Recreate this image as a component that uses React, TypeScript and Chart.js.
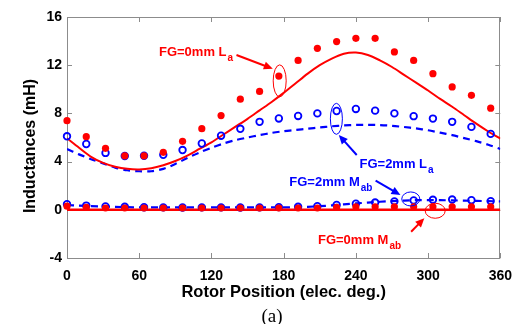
import React, { useEffect, useRef } from 'react';
import { Chart, registerables } from 'chart.js';

Chart.register(...registerables);

// ---- data ----
const measAngles = [0, 16, 32, 48, 64, 80, 96, 112, 128, 144, 160, 176, 192, 208, 224, 240, 256, 272, 288, 304, 320, 336, 352];
const la0Meas = [7.4, 6.07, 5.1, 4.48, 4.48, 4.77, 5.68, 6.73, 7.82, 9.18, 9.82, 11.1, 12.4, 13.4, 13.96, 14.23, 14.23, 13.1, 12.4, 11.3, 10.2, 9.5, 8.43];
const la2Meas = [6.1, 5.46, 4.72, 4.47, 4.48, 4.56, 4.96, 5.5, 6.15, 6.72, 7.3, 7.58, 7.79, 8.0, 8.2, 8.37, 8.23, 8.0, 7.77, 7.57, 7.3, 6.88, 6.3];
const mab0Meas = [0.3, 0.2, 0.15, 0.15, 0.15, 0.15, 0.15, 0.15, 0.15, 0.15, 0.15, 0.15, 0.15, 0.15, 0.2, 0.25, 0.25, 0.25, 0.25, 0.25, 0.25, 0.25, 0.25];
const mab2Meas = [0.47, 0.35, 0.28, 0.25, 0.21, 0.2, 0.19, 0.2, 0.2, 0.19, 0.2, 0.22, 0.25, 0.3, 0.4, 0.5, 0.6, 0.7, 0.78, 0.83, 0.85, 0.8, 0.72];

const simAngles = [0, 10, 20, 30, 40, 50, 60, 70, 80, 90, 100, 110, 120, 130, 140, 150, 160, 170, 180, 190, 200, 210, 220, 230, 240, 250, 260, 270, 280, 290, 300, 310, 320, 330, 340, 350, 360];
const la0Sim = [5.93, 5.15, 4.4, 3.9, 3.58, 3.4, 3.35, 3.45, 3.7, 4.05, 4.5, 5.05, 5.6, 6.25, 6.9, 7.55, 8.25, 8.95, 9.7, 10.5, 11.3, 12.0, 12.55, 12.95, 13.05, 12.85, 12.4, 11.85, 11.2, 10.55, 9.9, 9.2, 8.55, 7.85, 7.15, 6.5, 5.9];
const la2Sim = [5.05, 4.6, 4.2, 3.85, 3.5, 3.28, 3.2, 3.2, 3.4, 3.8, 4.3, 4.75, 5.15, 5.5, 5.78, 6.0, 6.2, 6.38, 6.52, 6.63, 6.73, 6.83, 6.93, 7.0, 7.04, 7.05, 7.03, 6.97, 6.87, 6.75, 6.6, 6.4, 6.2, 5.95, 5.7, 5.4, 5.05];
const mab0Sim = [0, 0, 0, 0, 0, 0, 0, 0, 0, 0, 0, 0, 0, 0, 0, 0, 0, 0, 0, 0, 0, 0, 0, 0, 0, 0, 0, 0, 0, 0, 0, 0, 0, 0, 0, 0, 0];
const mab2Sim = [0.4, 0.35, 0.3, 0.28, 0.25, 0.22, 0.2, 0.2, 0.2, 0.2, 0.2, 0.2, 0.2, 0.2, 0.2, 0.2, 0.2, 0.2, 0.2, 0.22, 0.25, 0.3, 0.37, 0.45, 0.53, 0.6, 0.67, 0.72, 0.76, 0.8, 0.8, 0.8, 0.78, 0.76, 0.74, 0.72, 0.7];

const xTicks = [0, 60, 120, 180, 240, 300, 360];
const yTicks = [-4, 0, 4, 8, 12, 16];

const xTitle = 'Rotor Position (elec. deg.)';
const yTitle = 'Inductances (mH)';
const caption = '(a)';

// annotation labels (data coordinates)
const labelTexts = [
  { main: 'FG=0mm L', sub: 'a', color: 'red', x: 76.4, y: 12.8 },
  { main: 'FG=2mm L', sub: 'a', color: 'blue', x: 243, y: 3.44 },
  { main: 'FG=2mm M', sub: 'ab', color: 'blue', x: 184.7, y: 2.0 },
  { main: 'FG=0mm M', sub: 'ab', color: 'red', x: 208.5, y: -2.84 },
];
const arrows = [
  { color: 'red', x1: 140.8, y1: 12.85, x2: 171, y2: 11.7 },
  { color: 'blue', x1: 240.7, y1: 4.55, x2: 225.8, y2: 6.2 },
  { color: 'blue', x1: 256.4, y1: 2.42, x2: 277, y2: 1.23 },
  { color: 'red', x1: 285.9, y1: -1.82, x2: 296.9, y2: -0.7 },
];
const ellipses = [
  { color: 'red', x: 176.7, y: 10.7, rx: 6.5, ry: 16 },
  { color: 'blue', x: 223.8, y: 7.55, rx: 6, ry: 15.5 },
  { color: 'blue', x: 285.6, y: 0.9, rx: 9, ry: 7 },
  { color: 'red', x: 305.9, y: -0.08, rx: 10, ry: 7.5 },
];

const FONT = '"Liberation Sans", Arial, sans-serif';
const RED = 'rgb(255,0,0)';
const BLUE = 'rgb(0,0,255)';

const pts = (xs: number[], ys: number[]) => xs.map((x, i) => ({ x, y: ys[i] }));

const framePlugin = {
  id: 'frame',
  beforeDatasetsDraw(chart: any) {
    const { ctx, chartArea, scales } = chart;
    const { left, right, top, bottom } = chartArea;
    ctx.save();
    ctx.strokeStyle = '#8c8c8c';
    ctx.lineWidth = 1;
    ctx.strokeRect(Math.round(left) + 0.5, Math.round(top) + 0.5, Math.round(right - left) - 1, Math.round(bottom - top));
    ctx.beginPath();
    const tl = 5;
    xTicks.forEach((v) => {
      const px = Math.round(scales.x.getPixelForValue(v)) + 0.5;
      ctx.moveTo(px, bottom);
      ctx.lineTo(px, bottom - tl);
      ctx.moveTo(px, top);
      ctx.lineTo(px, top + tl);
    });
    yTicks.forEach((v) => {
      const py = Math.round(scales.y.getPixelForValue(v)) + 0.5;
      ctx.moveTo(left, py);
      ctx.lineTo(left + tl, py);
      ctx.moveTo(right, py);
      ctx.lineTo(right - tl, py);
    });
    ctx.stroke();
    ctx.restore();
  },
  afterDatasetsDraw(chart: any) {
    const { ctx, scales } = chart;
    const X = (v: number) => scales.x.getPixelForValue(v);
    const Y = (v: number) => scales.y.getPixelForValue(v);
    ctx.save();
    ellipses.forEach((e) => {
      ctx.beginPath();
      ctx.strokeStyle = e.color;
      ctx.lineWidth = 1;
      ctx.ellipse(X(e.x), Y(e.y), e.rx, e.ry, 0, 0, Math.PI * 2);
      ctx.stroke();
    });
    arrows.forEach((a) => {
      const x1 = X(a.x1), y1 = Y(a.y1), x2 = X(a.x2), y2 = Y(a.y2);
      const ang = Math.atan2(y2 - y1, x2 - x1);
      const hl = 9, hw = 4;
      ctx.strokeStyle = a.color;
      ctx.fillStyle = a.color;
      ctx.lineWidth = 2;
      ctx.beginPath();
      ctx.moveTo(x1, y1);
      ctx.lineTo(x2 - Math.cos(ang) * hl * 0.8, y2 - Math.sin(ang) * hl * 0.8);
      ctx.stroke();
      ctx.beginPath();
      ctx.moveTo(x2, y2);
      ctx.lineTo(x2 - Math.cos(ang) * hl + Math.sin(ang) * hw, y2 - Math.sin(ang) * hl - Math.cos(ang) * hw);
      ctx.lineTo(x2 - Math.cos(ang) * hl - Math.sin(ang) * hw, y2 - Math.sin(ang) * hl + Math.cos(ang) * hw);
      ctx.closePath();
      ctx.fill();
    });
    ctx.textBaseline = 'alphabetic';
    ctx.textAlign = 'left';
    labelTexts.forEach((t) => {
      const x = X(t.x), y = Y(t.y);
      ctx.fillStyle = t.color;
      ctx.font = `bold 13px ${FONT}`;
      ctx.fillText(t.main, x, y);
      const w = ctx.measureText(t.main).width;
      ctx.font = `bold 10px ${FONT}`;
      ctx.fillText(t.sub, x + w + 1, y + 5);
    });
    ctx.restore();
  },
  afterDraw(chart: any) {
    const { ctx } = chart;
    ctx.save();
    ctx.fillStyle = '#000';
    // y axis title
    ctx.font = `bold 16px ${FONT}`;
    ctx.textAlign = 'center';
    ctx.textBaseline = 'middle';
    ctx.translate(31, 146);
    ctx.rotate(-Math.PI / 2);
    ctx.fillText(yTitle, 0, 0);
    ctx.restore();
    ctx.save();
    ctx.fillStyle = '#000';
    ctx.font = `19px "Liberation Serif", "Times New Roman", serif`;
    ctx.textAlign = 'center';
    ctx.textBaseline = 'alphabetic';
    ctx.fillText(caption, 272, 322);
    ctx.restore();
  },
};

export default function App() {
  const ref = useRef<HTMLCanvasElement>(null);
  useEffect(() => {
    if (!ref.current) return;
    const chart = new Chart(ref.current, {
      type: 'scatter',
      data: {
        datasets: [
          { label: 'FG=0mm La meas', data: pts(measAngles, la0Meas), backgroundColor: RED, borderColor: RED, pointRadius: 3.6, pointBorderWidth: 0, showLine: false, clip: false },
          { label: 'FG=0mm Mab meas', data: pts(measAngles, mab0Meas), backgroundColor: RED, borderColor: RED, pointRadius: 3.6, pointBorderWidth: 0, showLine: false, clip: false },
          { label: 'FG=2mm La meas', data: pts(measAngles, la2Meas), backgroundColor: 'rgba(0,0,0,0)', borderColor: BLUE, pointRadius: 3.3, pointBorderWidth: 1.8, showLine: false, clip: false },
          { label: 'FG=2mm Mab meas', data: pts(measAngles, mab2Meas), backgroundColor: 'rgba(0,0,0,0)', borderColor: BLUE, pointRadius: 3.3, pointBorderWidth: 1.8, showLine: false, clip: false },
          { label: 'FG=0mm La sim', data: pts(simAngles, la0Sim), borderColor: RED, borderWidth: 2, pointRadius: 0, showLine: true, tension: 0.3 },
          { label: 'FG=0mm Mab sim', data: pts(simAngles, mab0Sim), borderColor: RED, borderWidth: 2.5, pointRadius: 0, showLine: true, tension: 0 },
          { label: 'FG=2mm La sim', data: pts(simAngles, la2Sim), borderColor: BLUE, borderWidth: 2.2, borderDash: [7, 5], pointRadius: 0, showLine: true, tension: 0.3 },
          { label: 'FG=2mm Mab sim', data: pts(simAngles, mab2Sim), borderColor: BLUE, borderWidth: 2.2, borderDash: [7, 5], pointRadius: 0, showLine: true, tension: 0.3 },
        ],
      },
      options: {
        animation: false,
        responsive: false,
        maintainAspectRatio: false,
        layout: { padding: { top: 17, right: 17, bottom: 22, left: 0 } },
        plugins: { legend: { display: false }, tooltip: { enabled: false } },
        scales: {
          x: {
            type: 'linear',
            min: 0,
            max: 360,
            afterBuildTicks: (s: any) => { s.ticks = xTicks.map((v) => ({ value: v })); },
            grid: { display: false, drawTicks: false },
            border: { display: false },
            ticks: { color: '#000', font: { family: FONT, size: 14, weight: 'bold' }, padding: 10, maxRotation: 0, autoSkip: false },
            title: { display: true, text: xTitle, color: '#000', font: { family: FONT, size: 16.5, weight: 'bold' }, padding: { top: 0, bottom: 0 } },
            afterFit: (s: any) => { s.height = 44; },
          },
          y: {
            type: 'linear',
            min: -4,
            max: 16,
            afterBuildTicks: (s: any) => { s.ticks = yTicks.map((v) => ({ value: v })); },
            grid: { display: false, drawTicks: false },
            border: { display: false },
            ticks: { color: '#000', font: { family: FONT, size: 14, weight: 'bold' }, padding: 5, autoSkip: false },
            title: { display: false, text: yTitle },
            afterFit: (s: any) => { s.width = 67; },
          },
        },
      },
      plugins: [framePlugin],
    } as any);
    return () => chart.destroy();
  }, []);
  return (
    <div style={{ position: 'absolute', left: 0, top: 0, width: 522, height: 324, background: '#fff' }}>
      <canvas ref={ref} width={522} height={324} style={{ display: 'block' }} />
    </div>
  );
}
